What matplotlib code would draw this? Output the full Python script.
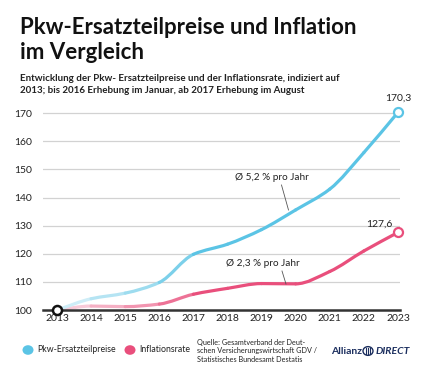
import matplotlib
matplotlib.use("Agg")
import matplotlib.pyplot as plt
import numpy as np
from matplotlib.path import Path
from matplotlib.patches import PathPatch, Circle
from matplotlib.colors import to_rgb

years = [2013, 2014, 2015, 2016, 2017, 2018, 2019, 2020, 2021, 2022, 2023]
pkw = [100.0, 104.0, 106.0, 109.8, 119.8, 123.4, 128.6, 135.6, 143.0, 156.0, 170.3]
infl = [100.0, 101.4, 101.2, 102.1, 105.6, 107.7, 109.4, 109.3, 113.7, 121.0, 127.6]
yticks = [100, 110, 120, 130, 140, 150, 160, 170]
series_names = ["Pkw-Ersatzteilpreise", "Inflationsrate"]
end_labels = ["170,3", "127,6"]
notes = ["Ø 5,2 % pro Jahr", "Ø 2,3 % pro Jahr"]

BLUE = "#5bc4e5"
PINK = "#e94f7c"
FONT = "Lato"

W, H = 421, 367
fig = plt.figure(figsize=(W / 100, H / 100), dpi=100)
fig.patch.set_facecolor("white")

def fx(px):
    return px / W

def fy(py):
    return 1 - py / H

ax = fig.add_axes([fx(43), fy(310), fx(400) - fx(43), fy(107.6) - fy(310)])
ax.set_xlim(2012.59, 2023.06)
ax.set_ylim(100, 172)
ax.set_facecolor("none")
for s in ["top", "right", "left"]:
    ax.spines[s].set_visible(False)
ax.spines["bottom"].set_color("#333333")
ax.spines["bottom"].set_linewidth(1.8)
ax.spines["bottom"].set_zorder(5)
for t in yticks[1:]:
    ax.axhline(t, color="#d2d2d2", lw=0.9, zorder=0)
ax.set_yticks(yticks)
ax.set_xticks(years)
ax.tick_params(length=0, labelsize=7.5, colors="#222222", pad=3)
ax.tick_params(axis="y", pad=8)
for lab in ax.get_xticklabels() + ax.get_yticklabels():
    lab.set_fontfamily(FONT)


def blend(c, f):
    r = np.array(to_rgb(c))
    return tuple(1 - (1 - r) * f)


def smooth_line(xs, ys, color):
    # monotone cubic (Fritsch-Carlson style) tangents, drawn as Bezier paths
    xs = np.asarray(xs, float)
    ys = np.asarray(ys, float)
    n = len(xs)
    d = np.diff(ys) / np.diff(xs)
    m = np.zeros(n)
    m[0] = d[0]
    m[-1] = d[-1]
    for i in range(1, n - 1):
        if d[i - 1] * d[i] <= 0:
            m[i] = 0.0
        else:
            m[i] = 2.0 / (1.0 / d[i - 1] + 1.0 / d[i])
    fades = [0.3, 0.45, 0.6, 0.8, 1.0]
    for i in range(n - 1):
        dx = xs[i + 1] - xs[i]
        verts = [(xs[i], ys[i]),
                 (xs[i] + dx / 3, ys[i] + m[i] * dx / 3),
                 (xs[i + 1] - dx / 3, ys[i + 1] - m[i + 1] * dx / 3),
                 (xs[i + 1], ys[i + 1])]
        codes = [Path.MOVETO, Path.CURVE4, Path.CURVE4, Path.CURVE4]
        f = fades[i] if i < len(fades) else 1.0
        pp = PathPatch(Path(verts, codes), fill=False, edgecolor=blend(color, f),
                       lw=2.3, capstyle="round", joinstyle="round", zorder=3)
        ax.add_patch(pp)


smooth_line(years, infl, PINK)
smooth_line(years, pkw, BLUE)

ax.plot([years[-1]], [pkw[-1]], "o", ms=6.5, mfc="white", mec=BLUE, mew=1.6, zorder=6, clip_on=False)
ax.plot([years[-1]], [infl[-1]], "o", ms=6.5, mfc="white", mec=PINK, mew=1.6, zorder=6, clip_on=False)
ax.plot([years[0]], [pkw[0]], "o", ms=6.5, mfc="white", mec="#111111", mew=1.8, zorder=7, clip_on=False)

ax.annotate(end_labels[0], (years[-1], pkw[-1]), xytext=(0, 7), textcoords="offset points",
            ha="center", va="bottom", fontsize=7.5, family=FONT, color="#222222")
ax.annotate(end_labels[1], (years[-1], infl[-1]), xytext=(-4, 3), textcoords="offset points",
            ha="right", va="bottom", fontsize=7.5, family=FONT, color="#222222")

# average notes
fig.text(fx(272), fy(177), notes[0], ha="center", va="center", fontsize=7.2, family=FONT, color="#222222")
fig.add_artist(plt.Line2D([fx(281.5), fx(288.5)], [fy(185), fy(210)], color="#555555", lw=0.6))
fig.text(fx(263), fy(263), notes[1], ha="center", va="center", fontsize=7.2, family=FONT, color="#222222")
fig.add_artist(plt.Line2D([fx(282), fx(286)], [fy(271), fy(284)], color="#555555", lw=0.6))

# titles
fig.text(fx(20), fy(34), "Pkw-Ersatzteilpreise und Inflation", fontsize=16, fontweight="bold",
         family=FONT, color="#111111", ha="left", va="baseline")
fig.text(fx(20), fy(59), "im Vergleich", fontsize=16, fontweight="bold",
         family=FONT, color="#111111", ha="left", va="baseline")
fig.text(fx(20), fy(81), "Entwicklung der Pkw- Ersatzteilpreise und der Inflationsrate, indiziert auf",
         fontsize=7.0, fontweight="bold", family=FONT, color="#222222", ha="left", va="baseline")
fig.text(fx(20), fy(93), "2013; bis 2016 Erhebung im Januar, ab 2017 Erhebung im August",
         fontsize=7.0, fontweight="bold", family=FONT, color="#222222", ha="left", va="baseline")

# legend
for cx, col, name, tx in [(28, BLUE, series_names[0], 37), (130, PINK, series_names[1], 139)]:
    fig.add_artist(Circle((fx(cx), fy(350)), radius=5.5 / W, transform=fig.transFigure,
                          facecolor=col, edgecolor="none"))
    fig.text(fx(tx), fy(350), name, fontsize=6.3, family=FONT, color="#222222", ha="left", va="center")

fig.text(fx(197), fy(351), "Quelle: Gesamtverband der Deut-\nschen Versicherungswirtschaft GDV /\nStatistisches Bundesamt Destatis",
         fontsize=5.2, family=FONT, color="#222222", ha="left", va="center", linespacing=1.3)

# logo
NAVY = "#1b2e5e"
fig.text(fx(331), fy(351), "Allianz", fontsize=7.5, fontweight="bold", family=FONT, color=NAVY,
         ha="left", va="center")
fig.add_artist(Circle((fx(368), fy(351)), radius=5 / W, transform=fig.transFigure,
                      facecolor="white", edgecolor=NAVY, lw=1.0))
for dx in (-1.6, 0, 1.6):
    fig.add_artist(plt.Line2D([fx(368 + dx), fx(368 + dx)], [fy(354), fy(348)], color=NAVY, lw=0.8))
fig.text(fx(376), fy(351), "DIRECT", fontsize=7.5, fontweight="bold", style="italic", family=FONT,
         color=NAVY, ha="left", va="center")

fig.savefig("out.png", dpi=100, facecolor="white")
